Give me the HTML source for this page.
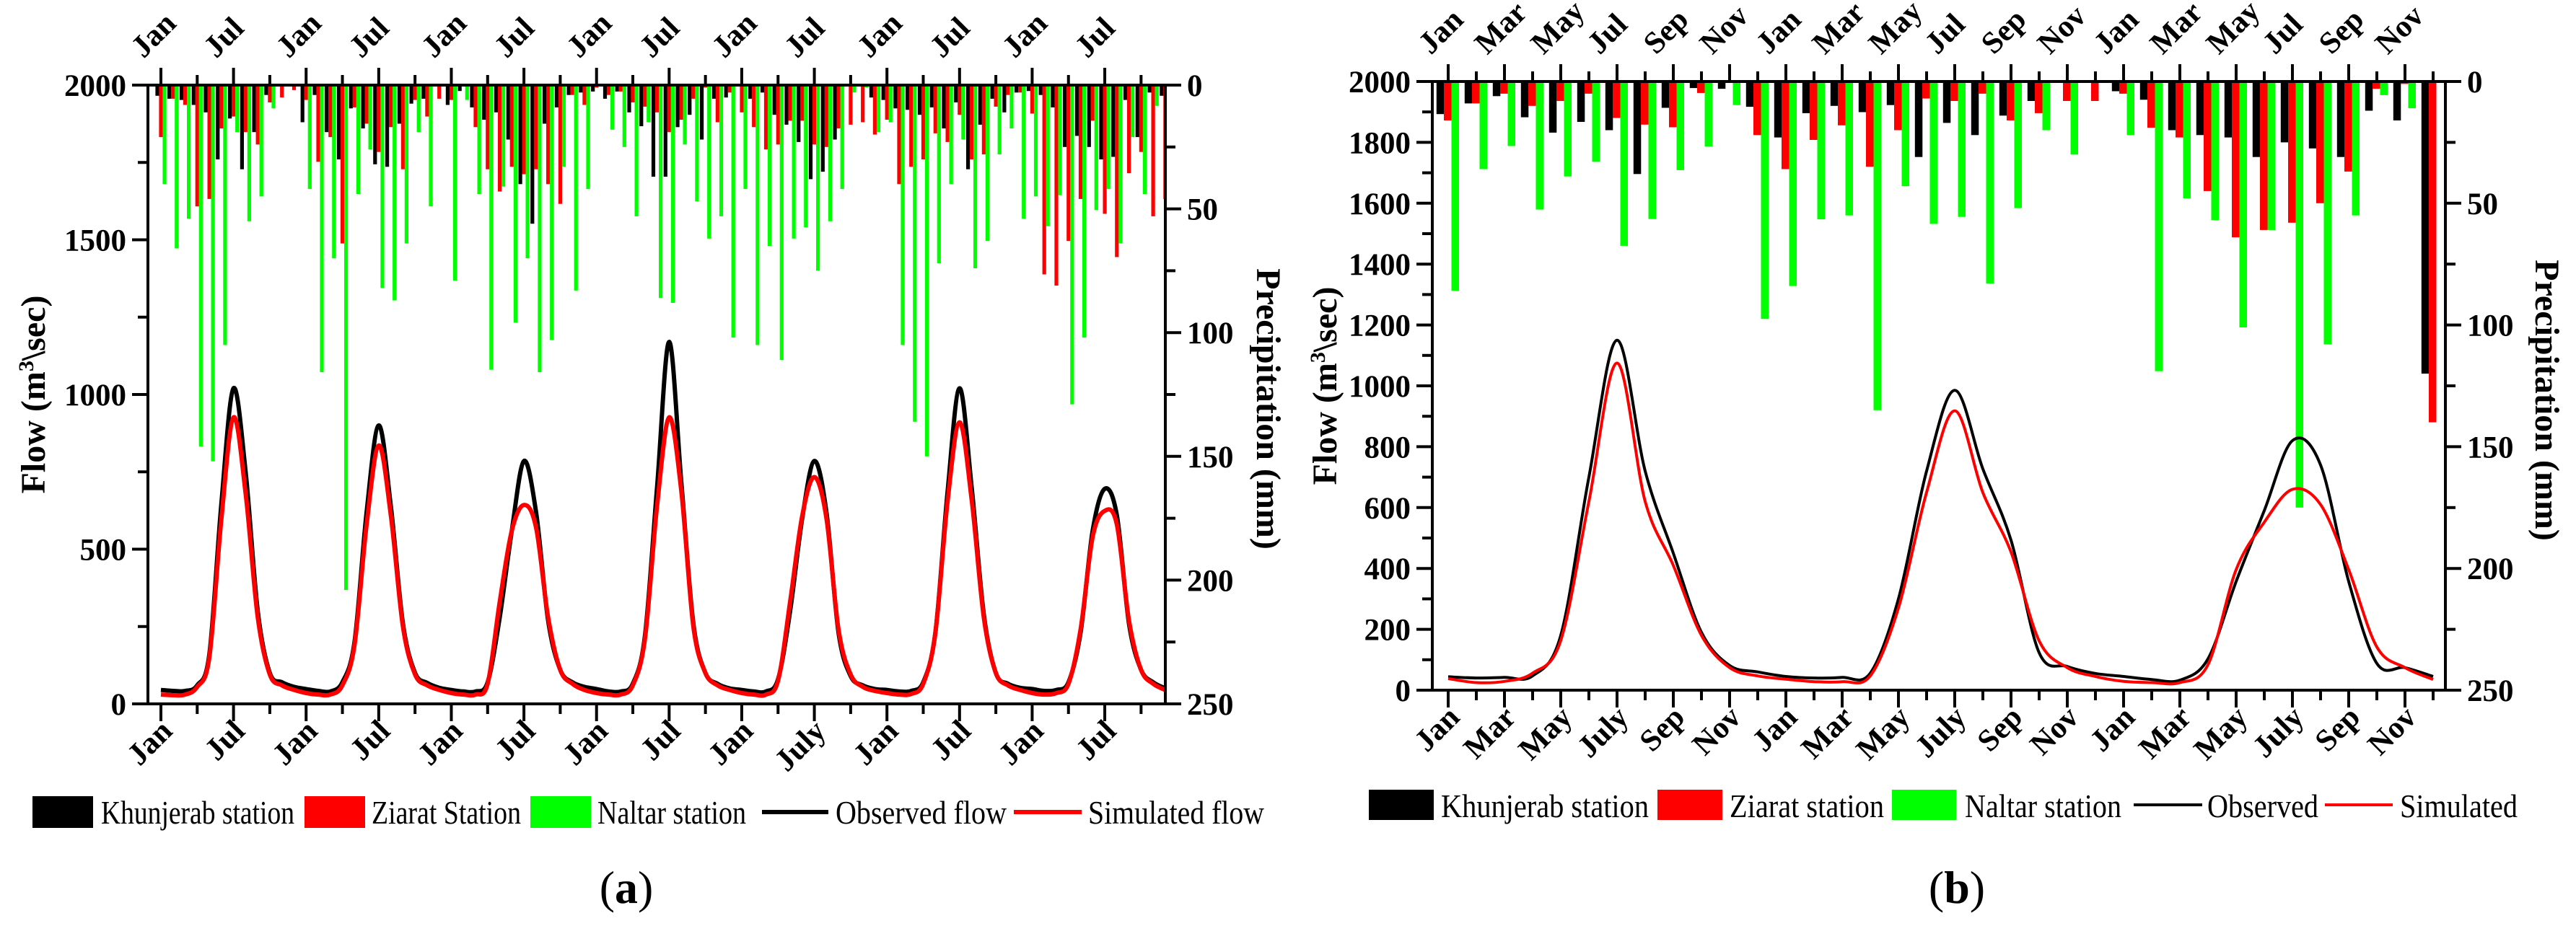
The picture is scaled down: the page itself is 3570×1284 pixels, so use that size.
<!DOCTYPE html>
<html><head><meta charset="utf-8">
<style>
html,body{margin:0;padding:0;background:#fff;}
svg{display:block;}
text{font-family:"Liberation Serif","DejaVu Serif",serif;}
.tk{font-weight:bold;font-size:43px;}
.lg{font-size:46px;}
.tt{font-weight:bold;font-size:48px;}
</style></head>
<body>
<svg id="fig" xmlns="http://www.w3.org/2000/svg" width="3570" height="1284" viewBox="0 0 3570 1284">
<rect width="3570" height="1284" fill="#fff"/>
<g id="panelA"></g>
<g id="panelB"></g>
<g>
<rect x="45" y="1104" width="84" height="44" fill="#000"/>
<text class="lg" x="140" y="1142" textLength="268" lengthAdjust="spacingAndGlyphs">Khunjerab station</text>
<rect x="422" y="1104" width="84" height="44" fill="#ff0000"/>
<text class="lg" x="515" y="1142" textLength="207" lengthAdjust="spacingAndGlyphs">Ziarat Station</text>
<rect x="735" y="1104" width="84" height="44" fill="#00ff00"/>
<text class="lg" x="828" y="1142" textLength="206" lengthAdjust="spacingAndGlyphs">Naltar station</text>
<line x1="1056" y1="1126" x2="1148" y2="1126" stroke="#000" stroke-width="6"/>
<text class="lg" x="1158" y="1142" textLength="237" lengthAdjust="spacingAndGlyphs">Observed flow</text>
<line x1="1405" y1="1126" x2="1499" y2="1126" stroke="#ff0000" stroke-width="6"/>
<text class="lg" x="1508" y="1142" textLength="244" lengthAdjust="spacingAndGlyphs">Simulated flow</text>
</g>
<g>
<rect x="1897" y="1095" width="90" height="42" fill="#000"/>
<text class="lg" x="1997" y="1133" textLength="288" lengthAdjust="spacingAndGlyphs">Khunjerab station</text>
<rect x="2297" y="1095" width="90" height="42" fill="#ff0000"/>
<text class="lg" x="2397" y="1133" textLength="214" lengthAdjust="spacingAndGlyphs">Ziarat station</text>
<rect x="2622" y="1095" width="89" height="42" fill="#00ff00"/>
<text class="lg" x="2723" y="1133" textLength="217" lengthAdjust="spacingAndGlyphs">Naltar station</text>
<line x1="2957" y1="1116" x2="3052" y2="1116" stroke="#000" stroke-width="4"/>
<text class="lg" x="3059" y="1133" textLength="154" lengthAdjust="spacingAndGlyphs">Observed</text>
<line x1="3222" y1="1116" x2="3316" y2="1116" stroke="#ff0000" stroke-width="4"/>
<text class="lg" x="3326" y="1133" textLength="163" lengthAdjust="spacingAndGlyphs">Simulated</text>
</g>
<text x="868" y="1252" text-anchor="middle" style="font-size:64px">(<tspan font-weight="bold">a</tspan>)</text>
<text x="2712" y="1252" text-anchor="middle" style="font-size:64px">(<tspan font-weight="bold">b</tspan>)</text>
</svg>
<script>
// ---------- Panel (a) data: 84 months ----------
const aKhunjerab=[4.3,5.5,6,8,11,30,13.5,34,19,4,0,0, 15,4,19,30,9.4,17.5,32,33,15.6,7.5,5.5,0, 8,2.4,9,14,11,22,40,56,15.6,9,4,3, 2.6,5.5,2.6,11,16.6,37,37,17,12,22,5.5,5, 0,5.5,3,12,16,23,38,35,22,0,0,5, 6,9.4,10,12,9,17.5,7,34,16,5.5,11,3, 2.4,4,9,25,20.5,25,30,29,6,21,3,4.3];
const aZiarat=[21,5.5,8,49,46,17.5,12.7,19,24,7,5,2, 6,31,21,64,9,15.6,27,17,34,6,12.7,5.5, 6,0,17,34,43,33,36,34,40,48,4,8, 1,4,2.6,7,8.7,11,19,14,5.5,1,15,3, 11,17,26,24,14.4,14.4,24,25,17.5,16,15,20, 14,40,33,30,19.5,23,12,30,28,8.7,4,3, 11.5,76.5,81,63,46,14.4,52,69.5,35.6,27,53,46];
const aNaltar=[40,66,54,146,152,105,19,55,45,9.4,0,0, 42,116,70,204,44,26,82,87,64,19,49,0, 79,6,44,115,41,96,70,116,103,33,83,42, 0,18,25,53,15,86,88,24,47,62,53,102, 42,105,65,111,62,57.5,75,55,42,3,1,19, 15,105,136,150,72,40,22,74,63,28,17.5,54, 45,57,44.5,129,102,50.5,42,64,21,44,8.4,0];
const aObserved=[45,42,42,60,160,650,1020,750,300,100,70,55, 48,42,40,70,200,620,900,640,260,100,68,52, 45,40,40,70,280,560,785,620,270,110,70,55, 48,40,40,65,220,700,1170,720,260,100,65,50, 45,40,40,80,300,600,785,620,230,90,60,48, 45,40,42,70,230,680,1020,700,290,100,65,52, 48,42,45,70,230,560,695,610,260,110,70,50];
const aSimulated=[30,28,30,55,150,600,926,680,280,95,60,45, 35,30,30,60,190,580,835,610,250,95,60,45, 35,30,30,65,330,560,643,570,280,110,65,45, 35,30,30,60,210,640,926,690,250,100,60,45, 35,30,30,75,330,608,733,600,240,95,55,42, 35,30,32,65,230,650,910,660,280,100,60,45, 35,30,35,65,240,540,624,580,270,110,65,45];
const aTickLabelsBottom=["Jan","Jul","Jan","Jul","Jan","Jul","Jan","Jul","Jan","July","Jan","Jul","Jan","Jul"];
const aTickLabelsTop=["Jan","Jul","Jan","Jul","Jan","Jul","Jan","Jul","Jan","Jul","Jan","Jul","Jan","Jul"];
const aFlowTicks=[0,500,1000,1500,2000];
const precipTicks=[0,50,100,150,200,250];
// ---------- Panel (b) data: 36 months ----------
const bKhunjerab=[13.4,9,6,14.7,21,16.6,20,38,10.8,2.7,3,10.4, 23,13,10,12.6,9.7,31,17,22,14,8,0,0, 4,7.5,20,22,23,31,25,27.5,31,12,16,120];
const bZiarat=[16,9,5,10,8,5,15,17.7,18.8,4.7,0,22, 36,24,18,35,20,7,8,5,16,13,8,8, 5,19,23,45,64,61,58,50,37,3,1,140];
const bNaltar=[86,36,26.5,52.6,39,33,67.5,56.5,36.4,26.7,9.7,97.5, 84,56.6,55,135,43,58.5,55.6,83,52,20,30,0, 22,119,48,57,101,61,175,108,55,5.6,11,0];
const bObserved=[44,40,42,47,180,700,1150,720,450,190,81,60, 45,40,42,56,300,720,985,727,493,123,78,55, 45,35,33,103,357,590,820,740,357,88,74,45];
const bSimulated=[38,25,29,56,163,620,1075,620,410,180,74,47, 36,28,28,47,270,650,918,649,454,162,74,45, 29,25,25,84,396,552,660,610,396,142,74,35];
const bTickLabelsTop=["Jan","Mar","May","Jul","Sep","Nov","Jan","Mar","May","Jul","Sep","Nov","Jan","Mar","May","Jul","Sep","Nov"];
const bTickLabelsBottom=["Jan","Mar","May","July","Sep","Nov","Jan","Mar","May","July","Sep","Nov","Jan","Mar","May","July","Sep","Nov"];
const bFlowTicks=[0,200,400,600,800,1000,1200,1400,1600,1800,2000];

const NS="http://www.w3.org/2000/svg";
function mk(tag,attrs,parent){const e=document.createElementNS(NS,tag);for(const k in attrs)e.setAttribute(k,attrs[k]);parent.appendChild(e);return e;}
function smooth(pts){let d="M"+pts[0][0]+","+pts[0][1];for(let i=0;i<pts.length-1;i++){const p0=pts[Math.max(0,i-1)],p1=pts[i],p2=pts[i+1],p3=pts[Math.min(pts.length-1,i+2)];const c1=[p1[0]+(p2[0]-p0[0])/6,p1[1]+(p2[1]-p0[1])/6],c2=[p2[0]-(p3[0]-p1[0])/6,p2[1]-(p3[1]-p1[1])/6];d+="C"+c1[0].toFixed(1)+","+c1[1].toFixed(1)+" "+c2[0].toFixed(1)+","+c2[1].toFixed(1)+" "+p2[0].toFixed(1)+","+p2[1].toFixed(1);}return d;}

function panel(g,cfg){
  const xS=i=>cfg.x0+i*cfg.mw;
  const yF=f=>cfg.bottom-f/2000*(cfg.bottom-cfg.top);
  const yP=p=>cfg.top+p/250*(cfg.bottom-cfg.top);
  const L=cfg.left,R=cfg.right,T=cfg.top,B=cfg.bottom;
  const series=[[cfg.k,"#000",cfg.off[0],"khunjerab"],[cfg.z,"#ff0000",cfg.off[1],"ziarat"],[cfg.n,"#00ff00",cfg.off[2],"naltar"]];
  series.forEach(s=>{s[0].forEach((v,i)=>{if(v<=0)return;
    let x=xS(i+s[2])-cfg.bw/2, w=cfg.bw; if(x+w>R){w=R-x;} if(w<=0)return;
    const r=mk("rect",{x:x.toFixed(1),y:T,width:w.toFixed(1),height:(yP(v)-T).toFixed(1),fill:s[1]},g);
    
    
  });});
  const clipId=cfg.id+"clip";
  const cp=mk("clipPath",{id:clipId},g);mk("rect",{x:L,y:T-5,width:R-L,height:B-T+5},cp);
  const obs=mk("path",{d:smooth(cfg.obs.map((v,i)=>[xS(i),yF(v)])),fill:"none",stroke:"#000","stroke-width":cfg.lw,"clip-path":"url(#"+clipId+")","stroke-linejoin":"round"},g);
  
  
  const sim=mk("path",{d:smooth(cfg.sim.map((v,i)=>[xS(i),yF(v)])),fill:"none",stroke:"#ff0000","stroke-width":cfg.lw,"clip-path":"url(#"+clipId+")","stroke-linejoin":"round"},g);
  
  
  const ax=mk("g",{stroke:"#000","stroke-width":4,fill:"none"},g);
  
  
  mk("line",{x1:L,y1:B,x2:R,y2:B},ax);
  mk("line",{x1:L-20,y1:T,x2:R+20,y2:T},ax);
  mk("line",{x1:L,y1:T,x2:L,y2:B+2},ax);
  mk("line",{x1:R,y1:T,x2:R,y2:B+2},ax);
  const minorF=cfg.flowTicks[1]/2;
  for(let f=0;f<=2000;f+=minorF){const major=cfg.flowTicks.indexOf(f)>=0;mk("line",{x1:L-(major?22:14),y1:yF(f),x2:L,y2:yF(f)},ax);}
  cfg.flowTicks.forEach(f=>{const t=mk("text",{x:L-30,y:yF(f)+15,"text-anchor":"end",class:"tk"},g);t.textContent=f;
    
    });
  for(let p=0;p<=250;p+=25){const major=p%50===0;mk("line",{x1:R,y1:yP(p),x2:R+(major?22:14),y2:yP(p)},ax);}
  precipTicks.forEach(p=>{const t=mk("text",{x:R+30,y:yP(p)+15,"text-anchor":"start",class:"tk"},g);t.textContent=p;
    
    });
  for(let i=0;i<cfg.nMonths;i+=cfg.minorStep){const x=xS(i);if(x>R+1)continue;const major=i%cfg.majorStep===0;const len=major?24:14;
    mk("line",{x1:x,y1:T-len,x2:x,y2:T},ax);mk("line",{x1:x,y1:B,x2:x,y2:B+len},ax);}
  cfg.topLabels.forEach((s,j)=>{const x=xS(j*cfg.majorStep);const t=mk("text",{x:x-24,y:T-36,class:"tk",transform:"rotate(-45 "+(x-24)+" "+(T-36)+")"},g);t.textContent=s;
    
    });
  cfg.bottomLabels.forEach((s,j)=>{const x=xS(j*cfg.majorStep);const t=mk("text",{x:x+18,y:B+40,"text-anchor":"end",class:"tk",transform:"rotate(-45 "+(x+18)+" "+(B+40)+")"},g);t.textContent=s;
    
    });
  const yt=mk("text",{x:cfg.ytx,y:(T+B)/2,"text-anchor":"middle",class:"tt",transform:"rotate(-90 "+cfg.ytx+" "+(T+B)/2+")"},g);
  yt.innerHTML='Flow (m<tspan baseline-shift="super" font-size="30">3</tspan>\\sec)';
  
  
  const pt=mk("text",{x:cfg.ptx,y:(T+B)/2+20,"text-anchor":"middle",class:"tt",transform:"rotate(90 "+cfg.ptx+" "+((T+B)/2+20)+")"},g);
  pt.textContent="Precipitation (mm)";
  
  
}
panel(document.getElementById("panelA"),{id:"a",x0:223,mw:16.77,left:205,right:1615,top:118,bottom:976,bw:5.2,off:[-0.3,0,0.3],
  k:aKhunjerab,z:aZiarat,n:aNaltar,obs:aObserved,sim:aSimulated,lw:6,flowTicks:aFlowTicks,nMonths:84,minorStep:3,majorStep:6,
  topLabels:aTickLabelsTop,bottomLabels:aTickLabelsBottom,ytx:62,ptx:1742});
panel(document.getElementById("panelB"),{id:"b",x0:2007,mw:39,left:1985,right:3389,top:113,bottom:957,bw:10.5,off:[-0.28,-0.02,0.25],
  k:bKhunjerab,z:bZiarat,n:bNaltar,obs:bObserved,sim:bSimulated,lw:4,flowTicks:bFlowTicks,nMonths:36,minorStep:1,majorStep:2,
  topLabels:bTickLabelsTop,bottomLabels:bTickLabelsBottom,ytx:1852,ptx:3514});
</script>
</body></html>
